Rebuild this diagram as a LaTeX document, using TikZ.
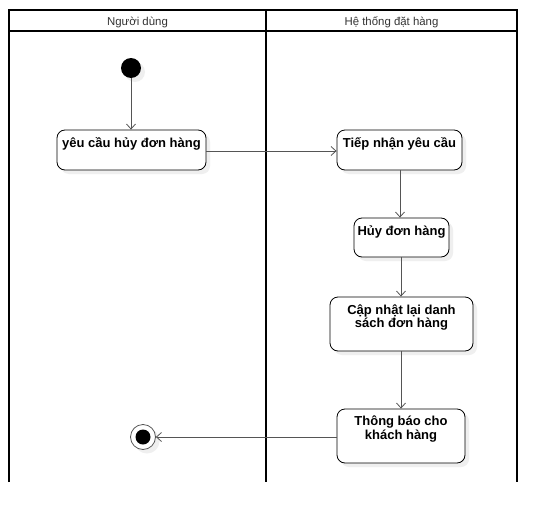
\documentclass[tikz,border=0pt]{standalone}
\usepackage{fontspec}
\setmainfont{Liberation Sans}
\usetikzlibrary{arrows.meta,shadows}
\definecolor{linegray}{HTML}{555555}
\definecolor{shadowgray}{HTML}{EFEFEF}
\begin{document}
\begin{tikzpicture}[x=1pt,y=-1pt,
  lane/.style={line width=2pt,draw=black},
  lanetitle/.style={font=\fontsize{11.4}{13}\selectfont,text=black!80,anchor=base,inner sep=0pt},
  actbox/.style={draw=black,line width=0.8pt,fill=white,rounded corners=8pt,
    drop shadow={shadow xshift=4pt,shadow yshift=-4pt,fill=shadowgray,opacity=1}},
  acttext/.style={font=\bfseries\fontsize{13}{11.5}\selectfont,align=center,anchor=base,inner sep=0pt},
  flow/.style={draw=linegray,line width=0.8pt,-{Straight Barb[length=5pt,width=9pt,line width=0.8pt]}},
  startnode/.style={circle,fill=black,minimum size=20pt,inner sep=0pt,
    drop shadow={shadow xshift=4pt,shadow yshift=-4pt,fill=shadowgray,opacity=1}},
  endring/.style={circle,draw=linegray,line width=0.8pt,fill=white,minimum size=25pt,inner sep=0pt,
    drop shadow={shadow xshift=4pt,shadow yshift=-4pt,fill=shadowgray,opacity=1}},
  enddot/.style={circle,fill=black,minimum size=15pt,inner sep=0pt}]
\useasboundingbox (0,0) rectangle (554,522);
\fill[white] (0,0) rectangle (554,522);

% swimlanes
\draw[lane] (9,482) -- (9,10) -- (517,10) -- (517,482);
\draw[lane] (266,10) -- (266,482);
\draw[lane] (9,31) -- (517,31);
\node[lanetitle] (laneA) at (137.5,25.5) {Người dùng};
\node[lanetitle] (laneB) at (391.5,25.5) {Hệ thống đặt hàng};

% start and end
\node[startnode] (start) at (131,68) {};
\node[endring] (stop) at (143,437) {};
\node[enddot] (stopdot) at (143,437) {};

% activities (two-line labels are placed by the baseline of their last line)
\node[actbox,minimum width=149pt,minimum height=40pt] (b1) at (131.5,150) {};
\node[acttext] (t1) at ([yshift=-18pt]b1.north) {yêu cầu hủy đơn hàng};

\node[actbox,minimum width=125pt,minimum height=40pt] (b2) at (399.5,150) {};
\node[acttext] (t2) at ([yshift=-18pt]b2.north) {Tiếp nhận yêu cầu};

\node[actbox,minimum width=95pt,minimum height=39pt] (b3) at (401.5,237.5) {};
\node[acttext] (t3) at ([yshift=-18pt]b3.north) {Hủy đơn hàng};

\node[actbox,minimum width=143pt,minimum height=54pt] (b4) at (401.5,324) {};
\node[acttext] (t4) at ([yshift=-31pt]b4.north) {Cập nhật lại danh\\sách đơn hàng};

\node[actbox,minimum width=128pt,minimum height=54pt] (b5) at (401,436) {};
\node[acttext] (t5) at ([yshift=-30.5pt]b5.north) {Thông báo cho\\khách hàng};

% control flow
\draw[flow] (start) -- (b1.north -| start);
\draw[flow] (b1.east |- 0,151) -- (b2.west |- 0,151);
\draw[flow] (b2.south -| 400,0) -- (b3.north -| 400,0);
\draw[flow] (b3.south -| 401,0) -- (b4.north -| 401,0);
\draw[flow] (b4.south -| 401,0) -- (b5.north -| 401,0);
\draw[flow] (b5.west |- 0,437) -- (stop);
\end{tikzpicture}
\end{document}
